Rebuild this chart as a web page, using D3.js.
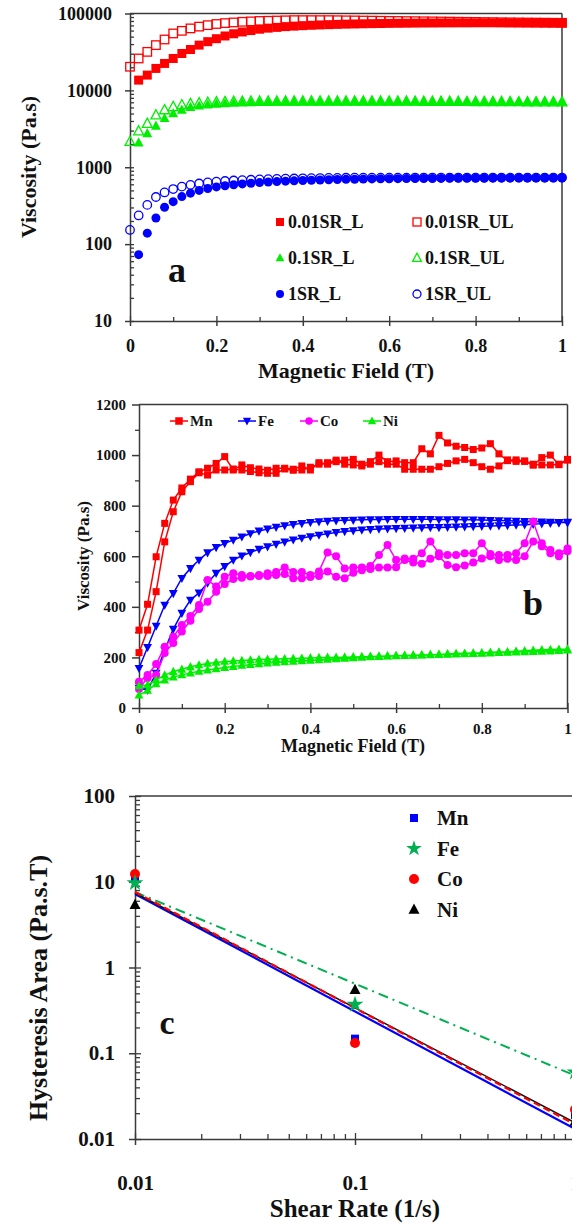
<!DOCTYPE html>
<html><head><meta charset="utf-8">
<script src="https://cdn.jsdelivr.net/npm/d3@7"></script>
<style>
body{margin:0;background:#fff}
svg{display:block}
text{font-family:"Liberation Serif","Times New Roman",serif;font-weight:bold;fill:#111}
</style>
</head><body>
<svg id="chart" width="572" height="1226"></svg>
<script>
// ---------------- DATA ----------------
const fieldT = [0,0.02,0.04,0.06,0.08,0.10,0.12,0.14,0.16,0.18,0.20,0.22,0.24,0.26,0.28,0.30,0.32,0.34,0.36,0.38,0.40,0.42,0.44,0.46,0.48,0.50,0.52,0.54,0.56,0.58,0.60,0.62,0.64,0.66,0.68,0.70,0.72,0.74,0.76,0.78,0.80,0.82,0.84,0.86,0.88,0.90,0.92,0.94,0.96,0.98,1.00];

// Panel a (viscosity vs field, log scale)
const sr001_L  = [null,13600,15800,19300,22400,26000,30200,34000,38800,43000,47000,51000,54500,57500,60000,62500,64500,66000,67500,68500,69500,70300,71000,71600,72200,72700,73100,73500,73800,74100,74400,74600,74800,75000,75200,75300,75400,75500,75600,75600,75700,75700,75700,75700,75600,75600,75500,75500,75400,75400,75300];
const sr001_UL = [20300,26000,31700,38800,45900,55000,59500,64000,67500,70500,73000,75000,76500,78000,79000,80000,80500,81000,81500,82000,82000,82000,82000,82000,81800,81500,81300,81000,80800,80500,80200,80000,79700,79500,79200,79000,78700,78500,78200,78000,77800,77500,77300,77000,76800,76600,76400,76200,76000,75800,75600];
const sr01_L   = [null,2090,2760,3440,4330,5000,5560,6030,6300,6500,6650,6750,6850,6900,6950,7000,7020,7040,7060,7080,7100,7100,7100,7100,7100,7100,7100,7100,7100,7100,7100,7100,7100,7100,7100,7100,7100,7090,7090,7080,7080,7070,7070,7060,7060,7060,7050,7050,7050,7050,7050];
const sr01_UL  = [2150,2950,3700,4770,5560,6120,6460,6700,6850,6950,7050,7100,7150,7150,7200,7200,7200,7200,7220,7220,7230,7230,7230,7230,7230,7220,7220,7220,7210,7210,7200,7200,7190,7180,7170,7160,7150,7150,7140,7130,7120,7110,7100,7100,7090,7080,7070,7060,7060,7050,7050];
const sr1_L    = [null,73,139,219,302,357,415,460,500,530,555,575,592,607,620,632,642,651,659,666,672,678,683,688,692,696,699,702,705,707,709,711,712,713,714,715,716,717,718,719,720,720,721,721,722,722,723,723,724,724,725];
const sr1_UL   = [153,236,324,410,470,520,560,590,615,635,650,662,672,680,688,695,700,705,710,714,718,721,724,726,728,730,731,731,732,732,733,733,733,734,734,734,734,735,735,735,735,735,735,735,735,735,735,735,735,735,735];
const legendA = ["0.01SR_L","0.01SR_UL","0.1SR_L","0.1SR_UL","1SR_L","1SR_UL"];
const ticksA_y = [10,100,1000,10000,100000];
const ticksA_x = [0,0.2,0.4,0.6,0.8,1];

// Panel b (viscosity vs field, linear, loading/unloading loops)
const Mn_L = [219,308,460,657,776,855,895,930,921,941,941,945,941,935,930,928,928,945,940,941,952,964,970,980,964,961,957,964,974,964,964,944,944,944,944,954,967,977,983,970,954,944,957,981,981,977,964,961,961,964,983];
const Mn_U = [308,410,598,730,822,870,905,934,948,967,994,941,961,950,945,940,948,948,944,957,941,970,964,974,980,983,964,974,1000,974,977,970,970,1025,1005,1078,1048,1035,1030,1022,1028,1045,1005,978,975,975,960,990,1000,962,980];
const Fe_L = [79,71,138,229,312,375,427,455,494,533,560,585,602,615,628,638,648,657,665,672,678,684,689,694,698,701,704,706,708,709,710,711,712,713,714,714,715,716,717,718,719,720,721,722,724,725,727,729,731,733,735];
const Fe_U = [157,240,324,407,453,513,552,585,614,635,651,664,677,690,700,708,715,721,726,730,734,737,739,741,742,743,744,745,745,746,746,746,746,746,746,745,745,745,744,744,743,742,741,740,739,738,737,736,735,734,733];
const Co_L = [75,119,130,217,257,302,345,391,420,460,490,510,515,520,522,522,526,530,513,513,518,522,540,519,513,535,545,550,556,556,557,585,575,570,590,600,565,557,563,575,591,600,585,590,585,600,658,651,625,600,620];
const Co_U = [104,130,174,242,282,328,364,407,506,480,519,533,526,522,526,533,538,556,538,538,526,540,615,600,552,556,556,561,605,644,585,591,590,612,658,612,605,605,612,612,651,609,605,605,612,651,737,640,612,612,631];
const Ni_L = [51,70,95,110,122,131,138,145,150,155,160,164,168,171,174,177,180,182,184,186,188,190,192,194,196,198,200,202,203,205,206,207,208,209,210,211,212,213,214,215,216,217,219,220,221,222,223,224,225,227,229];
const Ni_U = [87,91,111,130,144,153,163,170,176,180,184,186,188,190,192,193,194,195,196,197,198,199,200,200,201,202,203,204,205,206,207,208,209,210,211,212,214,215,216,217,218,220,221,222,224,226,228,230,231,232,232];
const metalsB = ["Mn","Fe","Co","Ni"];
const ticksB_y = [0,200,400,600,800,1000,1200];
const ticksB_x = [0,0.2,0.4,0.6,0.8,1];

// Panel c (hysteresis area vs shear rate, log-log)
const shearRate = [0.01,0.1,1];
const hystMn = [11.0,0.148,0.019];
const hystFe = [9.7,0.37,0.06];
const hystCo = [12.3,0.132,0.022];
const hystNi = [5.4,0.55,0.016];
const metalsC = ["Mn","Fe","Co","Ni"];
const fitAtLow  = [7.2,7.6,7.6,7.4];            // fit value at 0.01 1/s : Mn, Fe, Co, Ni
const fitAtHigh = [0.0131,0.055,0.0148,0.0155]; // fit value at 1 1/s
const ticksC_y = [0.01,0.1,1,10,100];
const ticksC_x = [0.01,0.1,1];

// ---------------- DRAW ----------------
const svg = d3.select("#chart");
svg.append("rect").attr("width",572).attr("height",1226).attr("fill","#fff");
const AX = "#3a3a3a";

function styleAxis(sel, fs){
  sel.select(".domain").attr("stroke",AX).attr("stroke-width",1.5);
  sel.selectAll(".tick line").attr("stroke",AX).attr("stroke-width",1.5);
  sel.selectAll(".tick text").attr("font-size",fs);
  return sel;
}
function bareTicks(g, axis, tx, ty){
  const s = g.append("g").attr("transform",`translate(${tx},${ty})`).call(axis);
  s.select(".domain").remove();
  s.selectAll(".tick line").attr("stroke",AX).attr("stroke-width",1.3);
  s.selectAll(".tick text").remove();
}
function marker(g, shape, cx, cy, s, color, filled){
  let el;
  if(shape==="square") el = g.append("rect").attr("x",cx-s/2).attr("y",cy-s/2).attr("width",s).attr("height",s);
  else if(shape==="circle") el = g.append("circle").attr("cx",cx).attr("cy",cy).attr("r",s/2);
  else if(shape==="triUp") el = g.append("path").attr("d",`M${cx},${cy-s*0.6}L${cx+s*0.55},${cy+s*0.42}L${cx-s*0.55},${cy+s*0.42}Z`);
  else if(shape==="triDown") el = g.append("path").attr("d",`M${cx},${cy+s*0.6}L${cx+s*0.55},${cy-s*0.42}L${cx-s*0.55},${cy-s*0.42}Z`);
  else if(shape==="star") el = g.append("path").attr("transform",`translate(${cx},${cy})`).attr("d",d3.symbol(d3.symbolStar, s*s*0.45)());
  if(filled) el.attr("fill",color).attr("stroke","none");
  else el.attr("fill","none").attr("stroke",color).attr("stroke-width",1.3);
  return el;
}
const fmtField = d=>d===0||d===1?d3.format("d")(d):d3.format(".1f")(d);

// ===== Panel a =====
{
  const g = svg.append("g");
  const x = d3.scaleLinear().domain([0,1]).range([130,562]);
  const y = d3.scaleLog().domain([10,100000]).range([321,13.5]);
  g.append("line").attr("x1",x(0)).attr("x2",x(1)).attr("y1",y(100000)).attr("y2",y(100000)).attr("stroke",AX).attr("stroke-width",1.5);
  g.append("line").attr("x1",x(1)).attr("x2",x(1)).attr("y1",y(100000)).attr("y2",y(10)).attr("stroke",AX).attr("stroke-width",1.5);
  const minorY = y.ticks().filter(v=>!ticksA_y.includes(v));
  bareTicks(g, d3.axisLeft(y).tickValues(minorY).tickSize(-4).tickSizeOuter(0), x(0), 0);
  bareTicks(g, d3.axisLeft(y).tickValues(ticksA_y).tickSize(-4).tickSizeOuter(0), x(0), 0);
  bareTicks(g, d3.axisBottom(x).tickValues([0.1,0.3,0.5,0.7,0.9]).tickSize(-4).tickSizeOuter(0), 0, y(10));
  bareTicks(g, d3.axisBottom(x).tickValues(ticksA_x).tickSize(-5).tickSizeOuter(0), 0, y(10));
  styleAxis(g.append("g").attr("transform",`translate(${x(0)},0)`)
    .call(d3.axisLeft(y).tickValues(ticksA_y).tickFormat(d3.format("d")).tickSize(5).tickSizeOuter(0).tickPadding(13)), 18);
  styleAxis(g.append("g").attr("transform",`translate(0,${y(10)})`)
    .call(d3.axisBottom(x).tickValues(ticksA_x).tickFormat(fmtField).tickSize(5).tickSizeOuter(0).tickPadding(13)), 18);

  g.append("text").attr("x",346).attr("y",378).attr("text-anchor","middle").attr("font-size",22).text("Magnetic Field (T)");
  g.append("text").attr("transform",`translate(36,167) rotate(-90)`).attr("text-anchor","middle").attr("font-size",22).text("Viscosity (Pa.s)");

  const series = [
    {d:sr001_L, shape:"square", c:"#ff0000", f:true, s:9},
    {d:sr001_UL,shape:"square", c:"#ff0000", f:false,s:8.5},
    {d:sr01_L,  shape:"triUp",  c:"#00ee00", f:true, s:9},
    {d:sr01_UL, shape:"triUp",  c:"#00ee00", f:false,s:9},
    {d:sr1_L,   shape:"circle", c:"#0000ff", f:true, s:9},
    {d:sr1_UL,  shape:"circle", c:"#0000ff", f:false,s:8.5}
  ];
  series.forEach(se=>{
    const gg = g.append("g");
    se.d.forEach((v,i)=>{ if(v!=null) marker(gg, se.shape, x(fieldT[i]), y(v), se.s, se.c, se.f); });
  });
  const lx = [280,417], ly = [222,258,294];
  series.forEach((se,i)=>{
    const cx = lx[i%2], cy = ly[Math.floor(i/2)];
    marker(g, se.shape, cx, cy, 8, se.c, se.f);
    g.append("text").attr("x",cx+8).attr("y",cy+6).attr("font-size",18).text(legendA[i]);
  });
  g.append("text").attr("x",177).attr("y",282).attr("text-anchor","middle").attr("font-size",36).text("a");
}

// ===== Panel b =====
{
  const g = svg.append("g");
  const x = d3.scaleLinear().domain([0,1]).range([139,567.5]);
  const y = d3.scaleLinear().domain([0,1200]).range([708,404.5]);
  g.append("line").attr("x1",x(0)).attr("x2",x(1)).attr("y1",y(1200)).attr("y2",y(1200)).attr("stroke",AX).attr("stroke-width",1.5);
  g.append("line").attr("x1",x(1)).attr("x2",x(1)).attr("y1",y(1200)).attr("y2",y(0)).attr("stroke",AX).attr("stroke-width",1.5);
  bareTicks(g, d3.axisLeft(y).tickValues([100,300,500,700,900,1100]).tickSize(4).tickSizeOuter(0), x(0), 0);
  bareTicks(g, d3.axisBottom(x).tickValues([0.1,0.3,0.5,0.7,0.9]).tickSize(-4).tickSizeOuter(0), 0, y(0));
  bareTicks(g, d3.axisBottom(x).tickValues(ticksB_x).tickSize(-5).tickSizeOuter(0), 0, y(0));
  styleAxis(g.append("g").attr("transform",`translate(${x(0)},0)`)
    .call(d3.axisLeft(y).tickValues(ticksB_y).tickFormat(d3.format("d")).tickSize(7).tickSizeOuter(0).tickPadding(6)), 15);
  styleAxis(g.append("g").attr("transform",`translate(0,${y(0)})`)
    .call(d3.axisBottom(x).tickValues(ticksB_x).tickFormat(fmtField).tickSize(5).tickSizeOuter(0).tickPadding(10)), 15);

  g.append("text").attr("x",353).attr("y",752).attr("text-anchor","middle").attr("font-size",18).text("Magnetic Field (T)");
  g.append("text").attr("transform",`translate(89,556) rotate(-90)`).attr("text-anchor","middle").attr("font-size",17).text("Viscosity (Pa.s)");

  const loops = [
    {L:Mn_L, U:Mn_U, shape:"square", c:"#ff0000", s:7},
    {L:Fe_L, U:Fe_U, shape:"triDown",c:"#0000ff", s:8},
    {L:Co_L, U:Co_U, shape:"circle", c:"#ff00ff", s:8},
    {L:Ni_L, U:Ni_U, shape:"triUp",  c:"#00ee00", s:8}
  ];
  const line = d3.line().x(d=>x(d[0])).y(d=>y(d[1]));
  loops.forEach(lp=>{
    const pts = fieldT.map((t,i)=>[t,lp.L[i]]).concat(fieldT.map((t,i)=>[t,lp.U[i]]).reverse());
    const gg = g.append("g");
    gg.append("path").attr("d",line(pts)).attr("fill","none").attr("stroke",lp.c).attr("stroke-width",1.5);
    pts.forEach(p=>marker(gg, lp.shape, x(p[0]), y(p[1]), lp.s, lp.c, true));
  });
  const lgx = [179,247,309,372];
  loops.forEach((lp,i)=>{
    const cx = lgx[i], cy = 421;
    g.append("line").attr("x1",cx-9).attr("x2",cx+9).attr("y1",cy).attr("y2",cy).attr("stroke",lp.c).attr("stroke-width",1.5);
    marker(g, lp.shape, cx, cy, 7.5, lp.c, true);
    g.append("text").attr("x",cx+11).attr("y",cy+5).attr("font-size",15).text(metalsB[i]);
  });
  g.append("text").attr("x",533).attr("y",615).attr("text-anchor","middle").attr("font-size",36).text("b");
}

// ===== Panel c =====
{
  const g = svg.append("g");
  const x = d3.scaleLog().domain([0.01,1]).range([135,575]);
  const y = d3.scaleLog().domain([0.01,100]).range([1139,796]);
  g.append("line").attr("x1",x(0.01)).attr("x2",x(1)).attr("y1",y(100)).attr("y2",y(100)).attr("stroke",AX).attr("stroke-width",1.5);
  g.append("line").attr("x1",x(1)).attr("x2",x(1)).attr("y1",y(100)).attr("y2",y(0.01)).attr("stroke",AX).attr("stroke-width",1.5);
  const minorY = y.ticks().filter(v=>!ticksC_y.some(t=>Math.abs(t-v)/t<1e-6));
  const minorX = x.ticks().filter(v=>!ticksC_x.some(t=>Math.abs(t-v)/t<1e-6));
  bareTicks(g, d3.axisLeft(y).tickValues(minorY).tickSize(-5).tickSizeOuter(0), x(0.01), 0);
  bareTicks(g, d3.axisLeft(y).tickValues(ticksC_y).tickSize(-6).tickSizeOuter(0), x(0.01), 0);
  bareTicks(g, d3.axisBottom(x).tickValues(minorX).tickSize(-5).tickSizeOuter(0), 0, y(0.01));
  bareTicks(g, d3.axisBottom(x).tickValues(ticksC_x).tickSize(-6).tickSizeOuter(0), 0, y(0.01));
  const fmt = d=>String(d);
  styleAxis(g.append("g").attr("transform",`translate(${x(0.01)},0)`)
    .call(d3.axisLeft(y).tickValues(ticksC_y).tickFormat(fmt).tickSize(6).tickSizeOuter(0).tickPadding(14)), 21);
  styleAxis(g.append("g").attr("transform",`translate(0,${y(0.01)})`)
    .call(d3.axisBottom(x).tickValues(ticksC_x).tickFormat(fmt).tickSize(6).tickSizeOuter(0).tickPadding(30)), 21);

  g.append("text").attr("x",355).attr("y",1217).attr("text-anchor","middle").attr("font-size",25).text("Shear Rate (1/s)");
  g.append("text").attr("transform",`translate(47,988) rotate(-90)`).attr("text-anchor","middle").attr("font-size",26).text("Hysteresis Area (Pa.s.T)");

  const fitStyle = [
    {c:"#0000ff", w:2.2, dash:null},
    {c:"#00b050", w:2,   dash:"10,5,2,5"},
    {c:"#ff0000", w:2.2, dash:"7,4"},
    {c:"#111111", w:1.5, dash:null}
  ];
  const line = d3.line().x(d=>x(d[0])).y(d=>y(d[1]));
  [1,0,3,2].forEach(i=>{
    const p = line([[0.01,fitAtLow[i]],[1,fitAtHigh[i]]]);
    const el = g.append("path").attr("d",p).attr("fill","none").attr("stroke",fitStyle[i].c).attr("stroke-width",fitStyle[i].w);
    if(fitStyle[i].dash) el.attr("stroke-dasharray",fitStyle[i].dash);
  });
  const pts = [
    {d:hystMn, shape:"square", c:"#0000ff", s:8},
    {d:hystCo, shape:"circle", c:"#ff0000", s:10},
    {d:hystFe, shape:"star",   c:"#00b050", s:14},
    {d:hystNi, shape:"triUp",  c:"#000000", s:10}
  ];
  pts.forEach(se=>se.d.forEach((v,i)=>marker(g, se.shape, x(shearRate[i]), y(v), se.s, se.c, true)));
  const legC = [
    {shape:"square", c:"#0000ff", s:8},
    {shape:"star",   c:"#00b050", s:13},
    {shape:"circle", c:"#ff0000", s:10},
    {shape:"triUp",  c:"#000000", s:10}
  ];
  legC.forEach((l,i)=>{
    const cy = 818 + i*30.5;
    marker(g, l.shape, 414, cy, l.s, l.c, true);
    g.append("text").attr("x",437).attr("y",cy+7).attr("font-size",21).text(metalsC[i]);
  });
  g.append("text").attr("x",167).attr("y",1034).attr("text-anchor","middle").attr("font-size",34).text("c");
}
</script>
</body></html>
